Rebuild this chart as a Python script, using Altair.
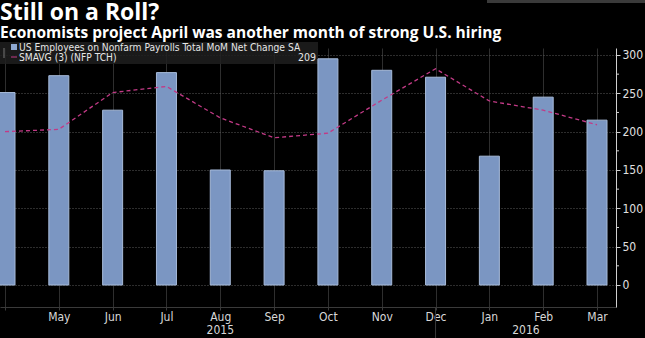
import altair as alt
import pandas as pd

months = ["Apr", "May", "Jun", "Jul", "Aug", "Sep", "Oct", "Nov", "Dec", "Jan", "Feb", "Mar"]
payrolls = [251, 273, 228, 277, 150, 149, 295, 280, 271, 168, 245, 215]
smavg = [200, 203, 251, 259, 218, 192, 198, 241, 282, 240, 228, 209]
years = ["2015", "2016"]
year_pos = [4.0, 9.68]
y_ticks = [0, 50, 100, 150, 200, 250, 300]
y_minor = [25, 75, 125, 175, 225, 275]

title = "Still on a Roll?"
subtitle = "Economists project April was another month of strong U.S. hiring"
legend1 = "US Employees on Nonfarm Payrolls Total MoM Net Change SA"
legend2 = "SMAVG (3) (NFP TCH)"
last_value = "209"

W, H = 616, 259
COND = "'DejaVu Sans Condensed', 'Liberation Sans Narrow', Roboto"

df = pd.DataFrame({"i": list(range(len(months))), "month": months,
                   "nfp": payrolls, "sma": smavg})

label_expr = "datum.value == 0 ? '' : [" + ",".join("'%s'" % m for m in months) + "][datum.value]"

xs = alt.Scale(domain=[0, 11.26], nice=False, zero=False)
ys = alt.Scale(domain=[-28.7, 309.1], nice=False, zero=False)

x_axis = alt.Axis(values=list(range(len(months))), labelExpr=label_expr, title=None,
                  grid=True, gridColor="#2e2e2e", gridWidth=1,
                  domainColor="#3a3a3a", tickColor="#3a3a3a", tickSize=3,
                  labelColor="#d8d8d8", labelFontSize=12, labelFont=COND,
                  labelPadding=1, labelFlush=False)
y_axis = alt.Axis(orient="right", values=y_ticks, title=None,
                  grid=True, gridColor="#5a5a5a", gridDash=[1, 2], gridWidth=1,
                  domainColor="#cfcfcf", tickColor="#cfcfcf", tickSize=4,
                  labelColor="#e0e0e0", labelFontSize=12, labelFont=COND,
                  labelPadding=2)

base = alt.Chart(df)

bars = base.mark_bar(size=20, fill="#7b96c2", stroke="#a7bbda", strokeWidth=1, clip=True).encode(
    x=alt.X("i:Q", scale=xs, axis=x_axis),
    y=alt.Y("nfp:Q", scale=ys, axis=y_axis),
    y2=alt.datum(0),
)

line = base.mark_line(color="#c23a86", strokeWidth=1.3, strokeDash=[4, 3], clip=True).encode(
    x=alt.X("i:Q", scale=xs),
    y=alt.Y("sma:Q", scale=ys),
)

minor = alt.Chart(pd.DataFrame({"v": y_minor})).mark_rule(color="#cfcfcf", strokeWidth=1).encode(
    y=alt.Y("v:Q", scale=ys),
    x=alt.value(W), x2=alt.value(W + 3),
)

year_df = pd.DataFrame({"year": years, "pos": year_pos})
year_text = alt.Chart(year_df).mark_text(color="#d8d8d8", fontSize=12, font=COND,
                                         baseline="middle", align="center").encode(
    x=alt.X("pos:Q", scale=xs),
    y=alt.value(H + 23),
    text="year:N",
)

sep = alt.Chart(pd.DataFrame({"v": [8]})).mark_rule(color="#3a3a3a", strokeWidth=1).encode(
    x=alt.X("v:Q", scale=xs),
    y=alt.value(H), y2=alt.value(H + 32),
)

box = alt.Chart(pd.DataFrame({"a": [0]})).mark_rect(fill="#1f1f1f", opacity=0.85).encode(
    x=alt.value(0), x2=alt.value(318), y=alt.value(-6), y2=alt.value(16),
)

icon1 = alt.Chart(pd.DataFrame({"a": [0]})).mark_rect(fill="#8fa8d0").encode(
    x=alt.value(11), x2=alt.value(17), y=alt.value(-4), y2=alt.value(2),
)
icon2 = alt.Chart(pd.DataFrame({"a": [0]})).mark_rule(color="#c23a86", strokeWidth=1).encode(
    x=alt.value(11), x2=alt.value(17), y=alt.value(9),
)
tree = alt.Chart(pd.DataFrame({"a": [0]})).mark_rule(color="#777777", strokeWidth=1).encode(
    x=alt.value(4), y=alt.value(0), y2=alt.value(10),
)

def txt(s, x, y, size, bold=False, font="Roboto", color="#ffffff", align="left", baseline="alphabetic"):
    return alt.Chart(pd.DataFrame({"t": [s]})).mark_text(
        color=color, fontSize=size, fontWeight="bold" if bold else "normal", font=font,
        align=align, baseline=baseline).encode(
        x=alt.value(x), y=alt.value(y), text="t:N")

t1 = txt(title, 0, -28.5, 23, bold=True, font="Open Sans")
t2 = txt(subtitle, 0, -10, 15.5, bold=True, font="Open Sans")
l1 = txt(legend1, 19, -0.5, 10.2, font=COND, color="#e6e6e6", baseline="middle")
l2 = txt(legend2, 19, 10, 10.2, font=COND, color="#e6e6e6", baseline="middle")
lv = txt(last_value, 316, 10, 10.5, font=COND, color="#e6e6e6", align="right", baseline="middle")
logo = txt("Bloomberg", 578, H + 34, 14, bold=True, font="Roboto", color="#dddddd", baseline="top")

topbar = alt.Chart(pd.DataFrame({"a": [0]})).mark_rect(fill="#3a3a3a").encode(
    x=alt.value(487), x2=alt.value(645), y=alt.value(-48), y2=alt.value(-45),
)

chart = alt.layer(box, bars, line, minor, sep, year_text, icon1, icon2, tree,
                  t1, t2, l1, l2, lv, logo, topbar).properties(
    width=W, height=H,
    autosize=alt.AutoSizeParams(type="none"),
    padding={"left": 0, "top": 48, "right": 29, "bottom": 31},
).configure(background="#000000").configure_view(stroke=None)

chart.save("out.html", embed_options={"renderer": "svg", "actions": False})
